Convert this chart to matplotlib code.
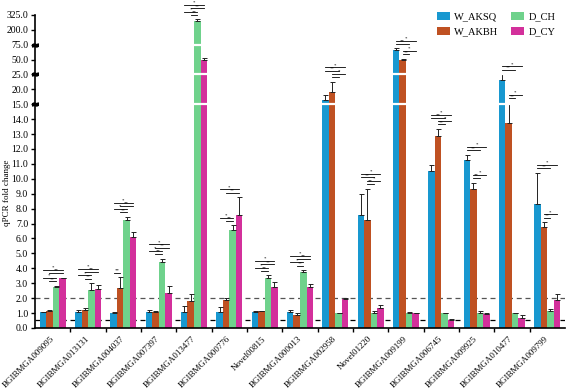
import matplotlib
matplotlib.use('Agg')
import matplotlib.pyplot as plt
import numpy as np

plt.rcParams['font.family'] = ['Liberation Serif', 'DejaVu Serif']

categories = ['BGIBMGA009095', 'BGIBMGA013131', 'BGIBMGA004037', 'BGIBMGA007397',
              'BGIBMGA013477', 'BGIBMGA000776', 'Novel00815', 'BGIBMGA000013',
              'BGIBMGA002958', 'Novel01220', 'BGIBMGA009199', 'BGIBMGA006745',
              'BGIBMGA009925', 'BGIBMGA010477', 'BGIBMGA009799']
series = ['W_AKSQ', 'W_AKBH', 'D_CH', 'D_CY']

w_aksq = [1.05, 1.05, 1.0, 1.05, 1.05, 1.05, 1.05, 1.05, 16.5, 7.6, 66.5, 10.55, 11.25, 23.2, 8.3]
w_aksq_err = [0.05, 0.15, 0.05, 0.15, 0.4, 0.35, 0.1, 0.15, 1.6, 1.35, 2.0, 0.4, 0.35, 2.5, 2.1]
w_akbh = [1.15, 1.2, 2.65, 1.1, 1.8, 1.88, 1.12, 0.9, 19.1, 7.25, 48.5, 12.9, 9.3, 13.75, 6.75]
w_akbh_err = [0.03, 0.15, 0.75, 0.03, 0.5, 0.15, 0.03, 0.1, 3.5, 2.1, 2.5, 0.45, 0.45, 1.7, 0.35]
d_ch = [2.77, 2.55, 7.25, 4.45, 275.0, 6.58, 3.33, 3.78, 1.0, 1.0, 1.0, 1.0, 1.0, 1.0, 1.15]
d_ch_err = [0.05, 0.45, 0.2, 0.2, 12.0, 0.3, 0.2, 0.1, 0.03, 0.15, 0.05, 0.03, 0.12, 0.03, 0.1]
d_cy = [3.33, 2.6, 6.13, 2.37, 49.5, 7.58, 2.77, 2.73, 1.93, 1.32, 0.98, 0.55, 0.92, 0.65, 1.88]
d_cy_err = [0.05, 0.25, 0.27, 0.45, 3.5, 1.2, 0.33, 0.2, 0.1, 0.25, 0.05, 0.03, 0.05, 0.2, 0.4]

# broken axis: tick values equally spaced on screen
tick_vals = [0.0, 1.0, 2.0, 3.0, 4.0, 5.0, 6.0, 7.0, 8.0, 9.0, 10.0, 11.0, 12.0, 13.0,
             14.0, 15.0, 20.0, 25.0, 50.0, 75.0, 200.0, 325.0]
breaks = [15.0, 25.0, 75.0]

# significance comparisons (bar i, bar j, stars) per group, drawn bottom-up
sig_d = [(1, 2, '**'), (0, 2, '*'), (1, 3, '**'), (0, 3, '*')]
sig_w = [(1, 2, '**'), (1, 3, '*'), (0, 2, '**'), (0, 3, '*')]
sig_tests = [sig_d, sig_d, [(0, 1, '**')] + sig_d, sig_d, sig_d, sig_d, sig_d, sig_d,
             sig_w, sig_w, sig_w, sig_w, sig_w, sig_w, sig_w]

colors = ['#1898d0', '#bf5122', '#6fd28c', '#d3309b']

tv = np.array(tick_vals)
ti = np.arange(len(tv), dtype=float)


def forward(v):
    v = np.asarray(v, dtype=float)
    out = np.interp(v, tv, ti)
    out = np.where(v > tv[-1], ti[-1] + (v - tv[-1]) / 125.0, out)
    out = np.where(v < 0, v, out)
    return out


def inverse(i):
    i = np.asarray(i, dtype=float)
    out = np.interp(i, ti, tv)
    out = np.where(i > ti[-1], tv[-1] + (i - ti[-1]) * 125.0, out)
    out = np.where(i < 0, i, out)
    return out


fig = plt.figure(figsize=(5.66, 3.89), dpi=100)
ax = fig.add_axes([0.062, 0.157, 0.936, 0.805])
ax.set_yscale('function', functions=(forward, inverse))

x = np.arange(len(categories))
w = 0.185
vals = [w_aksq, w_akbh, d_ch, d_cy]
errs = [w_aksq_err, w_akbh_err, d_ch_err, d_cy_err]
for k in range(4):
    ax.bar(x + (k - 1.5) * w, vals[k], w, color=colors[k], label=series[k], zorder=2)
    ax.errorbar(x + (k - 1.5) * w, vals[k], yerr=[np.zeros(len(x)), errs[k]], fmt='none',
                ecolor='#222222', elinewidth=0.7, capsize=1.8, capthick=0.7, zorder=3)

ax.axhline(2.0, color='#555555', lw=0.9, ls=(0, (4, 3)), zorder=1.5)
ax.axhline(0.5, color='black', lw=0.9, ls=(0, (4, 3)), zorder=1.5)

# white gaps where the axis is broken
ax.hlines(breaks, -0.45, 14.5, color='white', lw=1.6, zorder=4)
for b in breaks:
    ax.plot([0], [b], transform=ax.get_yaxis_transform(), marker=r'$\approx$',
            color='black', ms=4, clip_on=False, zorder=5)

# significance brackets
for g in range(len(categories)):
    prev = -1e9
    for (i, j, s) in sig_tests[g]:
        tops = [forward(vals[k][g] + errs[k][g]) for k in range(i, j + 1)]
        h = max(prev + 0.22, max(tops) + 0.3)
        prev = h
        x0 = g + (i - 1.5) * w
        x1 = g + (j - 1.5) * w
        yv = float(inverse(h))
        ax.plot([x0, x1], [yv, yv], color='black', lw=0.6, clip_on=False, zorder=5)
        ax.text((x0 + x1) / 2, float(inverse(h + 0.02)), s, fontsize=3.5,
                ha='center', va='bottom', clip_on=False)

ax.set_xlim(-0.5, len(categories) - 0.5)
ax.set_ylim(0, 325)
ax.set_yticks(tick_vals)
ax.set_yticklabels(['%.1f' % t for t in tick_vals], fontsize=7)
ax.yaxis.set_minor_locator(matplotlib.ticker.NullLocator())
ax.set_xticks(x)
ax.set_xticklabels(categories, rotation=45, ha='right', rotation_mode='anchor',
                   va='center', fontsize=6.5)
ax.set_xticks(x[:-1] + 0.5, minor=True)
ax.tick_params(axis='x', which='major', length=0, pad=7)
ax.tick_params(axis='x', which='minor', length=3, width=1)
ax.tick_params(axis='y', length=3, width=1, pad=2)

for side in ['top', 'right']:
    ax.spines[side].set_visible(False)
for side in ['left', 'bottom']:
    ax.spines[side].set_linewidth(1.2)

ax.set_ylabel('qPCR fold change', fontsize=6.5)
ax.yaxis.set_label_coords(-0.046, 0.43)
ax.legend(ncol=2, loc='upper right', bbox_to_anchor=(1.0, 1.04), frameon=False,
          fontsize=7.5, handlelength=1.3, handleheight=0.9, columnspacing=1.2,
          handletextpad=0.4, labelspacing=0.5)

fig.savefig('out.png', dpi=100)
